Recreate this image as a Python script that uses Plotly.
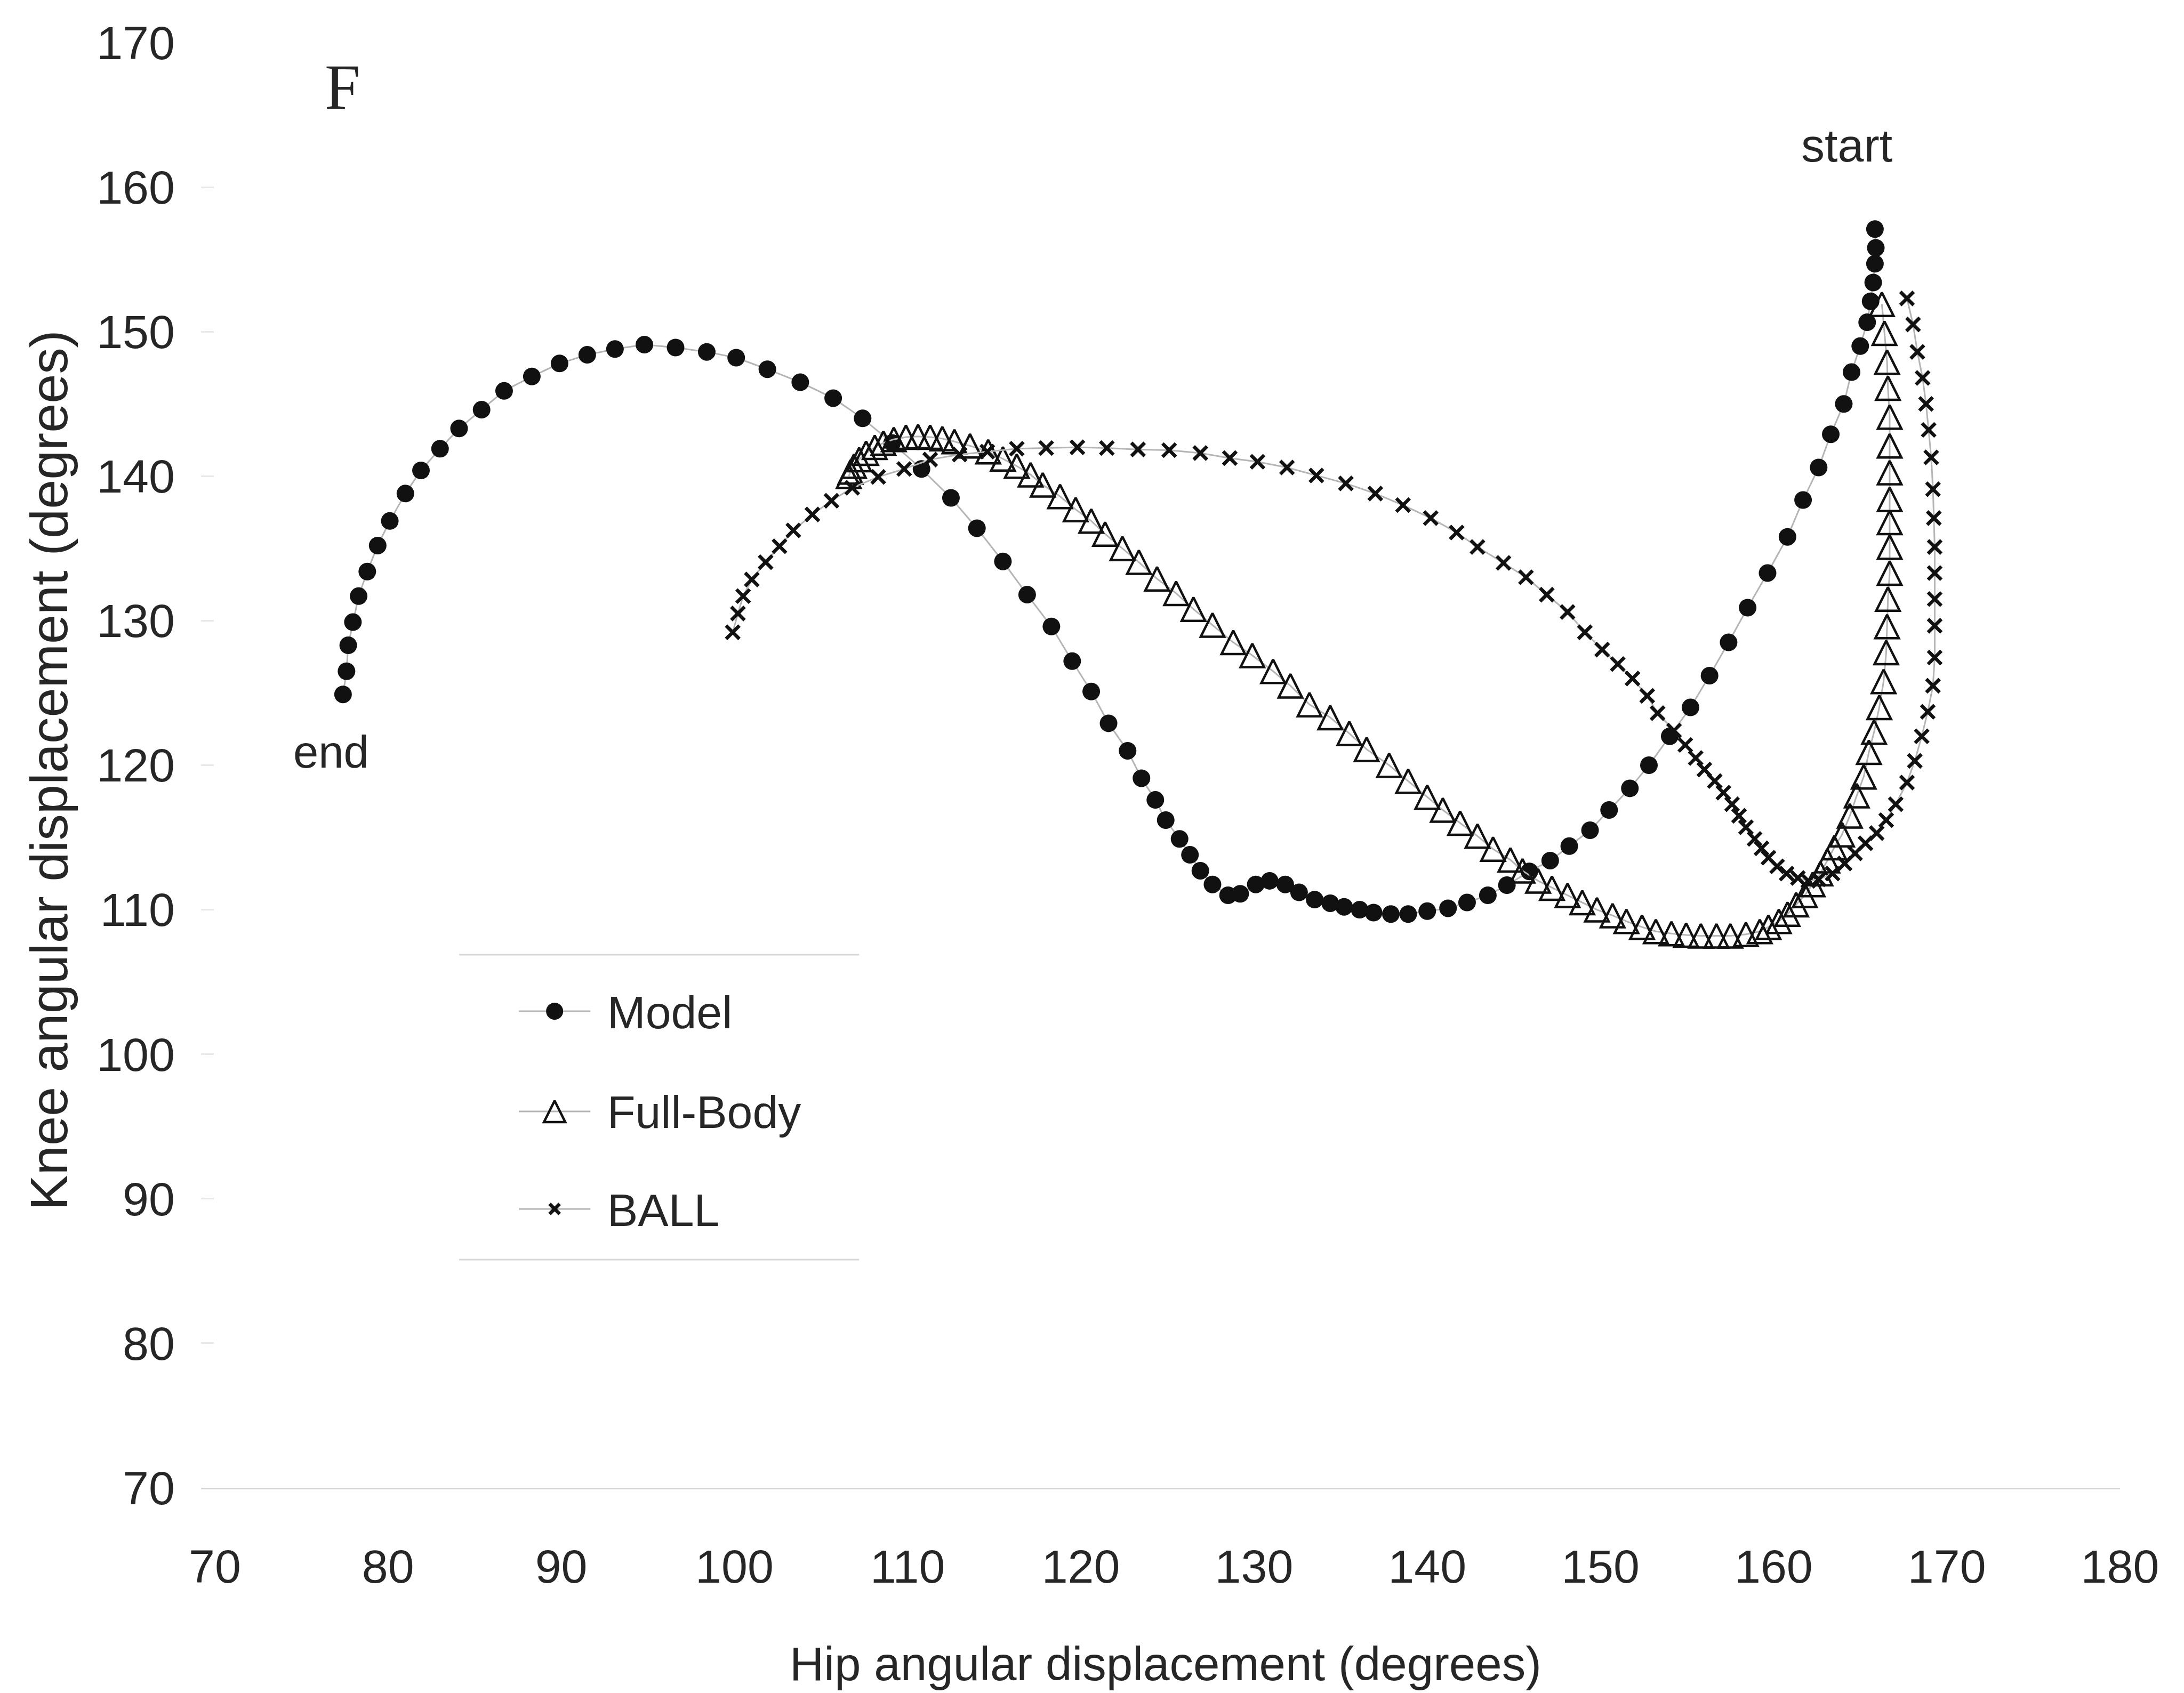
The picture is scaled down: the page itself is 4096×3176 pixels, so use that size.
import plotly.graph_objects as go

# ---- data: hip vs knee angular displacement (degrees) ----
model_hip = [165.85, 165.9, 165.85, 165.75, 165.6, 165.4, 165.0, 164.5, 164.05, 163.3,
             162.6, 161.7, 160.8, 159.65, 158.5, 157.4, 156.3, 155.2, 154.0, 152.8,
             151.7, 150.5, 149.4, 148.2, 147.1, 145.9, 144.6, 143.5, 142.3, 141.2,
             140.0, 138.9, 137.9, 136.9, 136.1, 135.2, 134.4, 133.5, 132.6, 131.8,
             130.9, 130.1, 129.2, 128.5, 127.6, 126.9, 126.3, 125.7, 124.9, 124.3,
             123.5, 122.7, 121.6, 120.6, 119.5, 118.3, 116.9, 115.5, 114.0, 112.5,
             110.8, 109.1, 107.4, 105.7, 103.8, 101.9, 100.1, 98.4, 96.6, 94.8,
             93.1, 91.5, 89.9, 88.3, 86.7, 85.4, 84.1, 83.0, 81.9, 81.0,
             80.1, 79.4, 78.8, 78.3, 77.97, 77.7, 77.6, 77.4]
model_knee = [157.1, 155.8, 154.7, 153.4, 152.1, 150.65, 149.0, 147.2, 145.0, 142.9,
              140.6, 138.35, 135.8, 133.3, 130.9, 128.5, 126.2, 124.0, 122.0, 120.0,
              118.4, 116.9, 115.5, 114.4, 113.4, 112.65, 111.7, 111.0, 110.5, 110.1,
              109.9, 109.7, 109.7, 109.8, 110.0, 110.2, 110.45, 110.7, 111.2, 111.75,
              112.0, 111.75, 111.1, 111.0, 111.75, 112.7, 113.8, 114.9, 116.2, 117.6,
              119.1, 121.0, 122.9, 125.1, 127.2, 129.6, 131.8, 134.1, 136.4, 138.5,
              140.5, 142.3, 144.0, 145.4, 146.5, 147.4, 148.2, 148.6, 148.9, 149.1,
              148.8, 148.4, 147.8, 146.9, 145.9, 144.6, 143.3, 141.9, 140.4, 138.8,
              136.9, 135.2, 133.4, 131.7, 129.9, 128.3, 126.5, 124.9]

fullbody_hip = [166.25, 166.4, 166.55, 166.6, 166.7, 166.7, 166.7, 166.7, 166.7, 166.7,
                166.7, 166.6, 166.55, 166.5, 166.35, 166.1, 165.8, 165.5, 165.2, 164.8,
                164.4, 163.95, 163.5, 163.1, 162.7, 162.25, 161.8, 161.3, 160.8, 160.3,
                159.7, 159.2, 158.4, 157.5, 156.7, 155.8, 154.95, 154.1, 153.2, 152.4,
                151.5, 150.7, 149.8, 148.95, 148.1, 147.2, 146.4, 145.5, 144.8, 143.8,
                142.9, 141.9, 140.9, 140.0, 138.9, 137.8, 136.5, 135.5, 134.4, 133.2,
                132.1, 131.1, 129.9, 128.8, 127.6, 126.5, 125.5, 124.4, 123.35, 122.4,
                121.4, 120.6, 119.7, 118.8, 117.8, 117.1, 116.3, 115.5, 114.65, 113.6,
                112.7, 112.0, 111.3, 110.6, 109.9, 109.2, 108.6, 108.1, 107.6, 107.2,
                106.9, 106.7, 106.6]
fullbody_knee = [151.9, 149.9, 147.9, 146.1, 144.1, 142.1, 140.25, 138.4, 136.8, 135.1,
                 133.3, 131.5, 129.6, 127.8, 125.8, 124.0, 122.3, 120.9, 119.2, 117.9,
                 116.5, 115.2, 114.3, 113.4, 112.5, 111.75, 111.0, 110.35, 109.7, 109.2,
                 108.8, 108.5, 108.3, 108.2, 108.2, 108.2, 108.25, 108.35, 108.5, 108.8,
                 109.2, 109.6, 110.0, 110.5, 111.0, 111.5, 112.0, 112.7, 113.45, 114.2,
                 115.1, 116.0, 116.9, 117.8, 118.9, 120.0, 121.1, 122.2, 123.3, 124.2,
                 125.5, 126.5, 127.6, 128.5, 129.7, 130.8, 131.9, 132.9, 134.05, 135.0,
                 136.0, 136.9, 137.7, 138.6, 139.4, 140.1, 140.7, 141.2, 141.7, 142.1,
                 142.4, 142.6, 142.7, 142.75, 142.7, 142.55, 142.3, 142.0, 141.6, 141.15,
                 140.7, 140.3, 140.0]

ball_hip = [167.7, 168.05, 168.3, 168.6, 168.8, 168.95, 169.1, 169.2, 169.25, 169.3,
            169.3, 169.3, 169.3, 169.3, 169.2, 168.9, 168.55, 168.15, 167.7, 167.05,
            166.5, 165.95, 165.3, 164.7, 164.1, 163.4, 162.6, 162.0, 161.4, 160.75,
            160.2, 159.7, 159.3, 158.9, 158.4, 158.0, 157.6, 157.1, 156.6, 156.0,
            155.5, 154.9, 154.25, 153.3, 152.7, 151.85, 151.0, 150.1, 149.1, 148.1,
            146.9, 145.7, 144.4, 142.9, 141.7, 140.2, 138.6, 137.0, 135.3, 133.6,
            131.9, 130.2, 128.6, 126.9, 125.1, 123.3, 121.5, 119.8, 118.0, 116.3,
            114.6, 113.0, 111.3, 109.8, 108.3, 106.8, 105.6, 104.5, 103.4, 102.6,
            101.8, 101.0, 100.5, 100.2, 99.9]
ball_knee = [152.3, 150.5, 148.6, 146.8, 145.0, 143.2, 141.3, 139.1, 137.1, 135.1,
             133.3, 131.5, 129.65, 127.45, 125.5, 123.7, 122.0, 120.3, 118.8, 117.3,
             116.2, 115.3, 114.6, 113.9, 113.2, 112.5, 112.1, 112.0, 112.2, 112.5,
             113.0, 113.6, 114.25, 114.9, 115.7, 116.5, 117.3, 118.1, 118.9, 119.7,
             120.5, 121.4, 122.4, 123.6, 124.8, 126.0, 127.0, 128.0, 129.2, 130.6,
             131.8, 133.0, 134.0, 135.1, 136.1, 137.1, 138.0, 138.8, 139.5, 140.05,
             140.6, 141.0, 141.25, 141.6, 141.8, 141.85, 141.95, 142.0, 141.95, 141.9,
             141.7, 141.5, 141.15, 140.5, 139.95, 139.2, 138.3, 137.35, 136.25, 135.15,
             134.05, 132.85, 131.7, 130.5, 129.2]

series_names = ["Model", "Full-Body", "BALL"]
x_ticks = list(range(70, 181, 10))
y_ticks = list(range(70, 171, 10))

# ---- page geometry (px) ----
W, H = 4096, 3176
L, R, T, B = 376.9, 3975.6, 79.6, 2791.2
X_RANGE = [69.2, 180]
Y_RANGE = [70, 170]


def px(x):
    return (x - L) / (R - L)


def py(y):
    return (B - y) / (B - T)


INK = "#111111"
TEXT = "#262626"
SANS = "Liberation Sans, Arial, sans-serif"
SERIF = "Liberation Serif, Times New Roman, serif"
link = dict(color="#b5b5b5", width=3)

marker_styles = {
    "Model": dict(symbol="circle", size=33, color=INK),
    "Full-Body": dict(symbol="arrow-down-open", angle=180, standoff=22, size=44,
                      color=INK, line=dict(width=4.5, color=INK)),
    "BALL": dict(symbol="x-thin", size=25, color=INK, line=dict(width=6.5, color=INK)),
}
series_xy = {
    "Model": (model_hip, model_knee),
    "Full-Body": (fullbody_hip, fullbody_knee),
    "BALL": (ball_hip, ball_knee),
}

fig = go.Figure()
for name in series_names:
    xs, ys = series_xy[name]
    fig.add_trace(go.Scatter(x=xs, y=ys, mode="lines+markers", name=name,
                             line=link, marker=marker_styles[name],
                             showlegend=False, cliponaxis=False))

# ---- hand-built key (pixel space overlay) ----
key_rows = {"Model": 1897, "Full-Body": 2085, "BALL": 2268}
key_sizes = {"Model": 32, "Full-Body": 40, "BALL": 19}
for name in series_names:
    ky = key_rows[name]
    fig.add_trace(go.Scatter(x=[973, 1107], y=[ky, ky], mode="lines", line=link,
                             xaxis="x2", yaxis="y2", showlegend=False, hoverinfo="skip"))
    m = dict(marker_styles[name])
    m["size"] = key_sizes[name]
    if name == "Full-Body":
        m["standoff"] = key_sizes[name] / 2
    fig.add_trace(go.Scatter(x=[1040], y=[ky], mode="markers", marker=m,
                             xaxis="x2", yaxis="y2", showlegend=False, hoverinfo="skip"))

annotations = []
for name, cy in [("Model", 1899), ("Full-Body", 2086), ("BALL", 2270)]:
    annotations.append(dict(text=name, x=px(1137), y=py(cy), xref="paper", yref="paper",
                            xanchor="left", yanchor="middle", showarrow=False,
                            font=dict(family=SANS, size=86, color=TEXT)))

annotations += [
    dict(text="F", x=px(642), y=py(163), xref="paper", yref="paper", xanchor="center",
         yanchor="middle", showarrow=False, font=dict(family=SERIF, size=120, color=TEXT)),
    dict(text="start", x=px(3463), y=py(272), xref="paper", yref="paper", xanchor="center",
         yanchor="middle", showarrow=False, font=dict(family=SANS, size=88, color=TEXT)),
    dict(text="end", x=px(621), y=py(1410), xref="paper", yref="paper", xanchor="center",
         yanchor="middle", showarrow=False, font=dict(family=SANS, size=85, color=TEXT)),
    dict(text="Hip angular displacement (degrees)", x=px(2186), y=py(3121), xref="paper",
         yref="paper", xanchor="center", yanchor="middle", showarrow=False,
         font=dict(family=SANS, size=89, color=TEXT)),
    dict(text="Knee angular displacement (degrees)", x=px(91), y=py(1445), xref="paper",
         yref="paper", xanchor="center", yanchor="middle", textangle=-90, showarrow=False,
         font=dict(family=SANS, size=99, color=TEXT)),
]

rule = dict(color="#d6d6d6", width=3)
shapes = [
    dict(type="line", xref="paper", yref="paper", x0=px(861), x1=px(1611),
         y0=py(1791), y1=py(1791), line=rule),
    dict(type="line", xref="paper", yref="paper", x0=px(861), x1=px(1611),
         y0=py(2363), y1=py(2363), line=rule),
]

fig.update_layout(
    width=W, height=H,
    margin=dict(l=L, r=W - R, t=T, b=H - B, autoexpand=False),
    paper_bgcolor="white", plot_bgcolor="white",
    font=dict(family=SANS, color=TEXT),
    xaxis=dict(range=X_RANGE, tickvals=x_ticks, showgrid=False, zeroline=False,
               showline=True, linecolor="#d4d4d4", linewidth=3, ticks="",
               tickfont=dict(family=SANS, size=88, color=TEXT), ticklabelstandoff=69),
    yaxis=dict(range=Y_RANGE, tickvals=y_ticks, showgrid=False, zeroline=False,
               showline=False, ticks="inside", ticklen=24, tickwidth=3, tickcolor="#e8e8e8",
               tickfont=dict(family=SANS, size=88, color=TEXT), ticklabelstandoff=48),
    xaxis2=dict(overlaying="x", range=[L, R], visible=False),
    yaxis2=dict(overlaying="y", range=[B, T], visible=False),
    annotations=annotations,
    shapes=shapes,
    showlegend=False,
)

fig.write_html("out.html")
